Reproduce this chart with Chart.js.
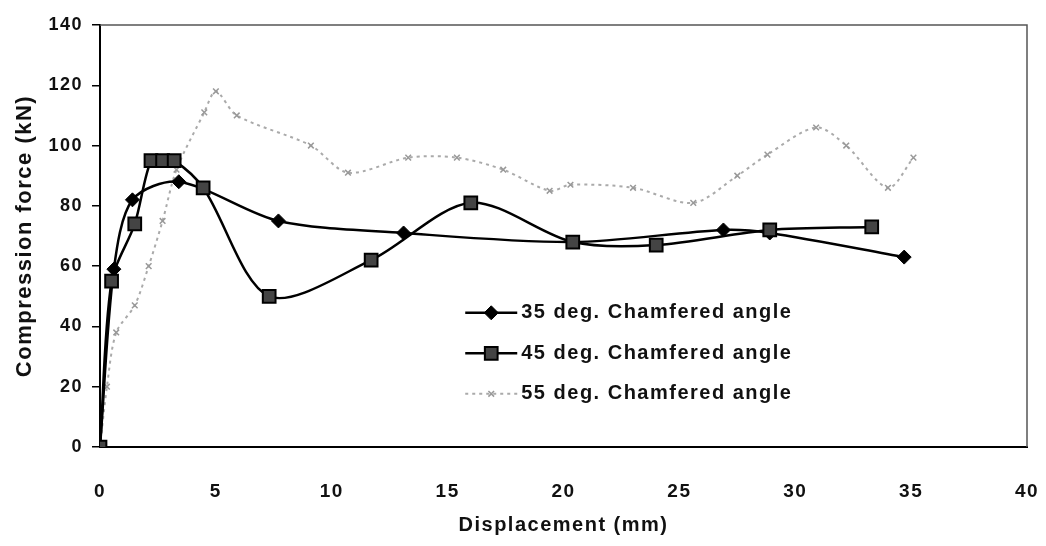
<!DOCTYPE html>
<html>
<head>
<meta charset="utf-8">
<script src="https://cdn.jsdelivr.net/npm/chart.js@4/dist/chart.umd.min.js"></script>
<style>
  html, body { margin: 0; padding: 0; background: #fff; }
  #wrap { width: 1046px; height: 546px; }
</style>
</head>
<body>
<div id="wrap"><canvas id="forceChart" width="1046" height="546"></canvas></div>
<script>
// displacement (mm) / compression force (kN)
const disp35 = [0, 0.6, 1.4, 3.4, 7.7, 13.1, 20.4, 26.9, 28.9, 34.7];
const force35 = [0, 59, 82, 88, 75, 71, 68, 72, 71, 63];

const disp45 = [0, 0.5, 1.5, 2.2, 2.7, 3.2, 4.45, 7.3, 11.7, 16.0, 20.4, 24.0, 28.9, 33.3];
const force45 = [0, 55, 74, 95, 95, 95, 86, 50, 62, 81, 68, 67, 72, 73];

const disp55 = [0, 0.3, 0.7, 1.5, 2.1, 2.7, 3.3, 4.5, 5.0, 5.9, 9.1, 10.7, 13.3, 15.4, 17.4, 19.4, 20.3, 23.0, 25.6, 27.5, 28.8, 30.9, 32.2, 34.0, 35.1];
const force55 = [0, 20, 38, 47, 60, 75, 92, 111, 118, 110, 100, 91, 96, 96, 92, 85, 87, 86, 81, 90, 97, 106, 100, 86, 96];

const seriesNames = ['35 deg. Chamfered angle', '45 deg. Chamfered angle', '55 deg. Chamfered angle'];
const xTicks = [0, 5, 10, 15, 20, 25, 30, 35, 40];
const yTicks = [0, 20, 40, 60, 80, 100, 120, 140];

const FONT = '"Liberation Sans", Arial, sans-serif';

function toPoints(xs, ys) {
  return xs.map((x, i) => ({ x: x, y: ys[i] }));
}

// legend drawn inside the plot area, like the original
const insideLegend = {
  id: 'insideLegend',
  afterDraw(chart) {
    const { ctx, chartArea: a } = chart;
    const x0 = a.left + (a.right - a.left) * 0.394;
    const y0 = a.top + (a.bottom - a.top) * 0.682;
    ctx.save();
    ctx.font = 'bold 20px ' + FONT;
    ctx.letterSpacing = '1.5px';
    ctx.textBaseline = 'middle';
    ctx.fillStyle = '#111';
    chart.data.datasets.forEach((ds, i) => {
      const y = y0 + i * 40.5;
      ctx.strokeStyle = ds.borderColor;
      ctx.lineWidth = ds.borderWidth;
      ctx.setLineDash(ds.borderDash || []);
      ctx.beginPath();
      ctx.moveTo(x0, y);
      ctx.lineTo(x0 + 52, y);
      ctx.stroke();
      ctx.setLineDash([]);
      ctx.fillStyle = ds.pointBackgroundColor;
      ctx.strokeStyle = ds.pointBorderColor;
      ctx.lineWidth = ds.pointBorderWidth;
      Chart.helpers.drawPoint(ctx, {
        pointStyle: ds.pointStyle, radius: ds.pointRadius, rotation: 0, borderWidth: ds.pointBorderWidth
      }, x0 + 26, y);
      ctx.fillStyle = '#111';
      ctx.fillText(seriesNames[i], x0 + 56, y);
    });
    ctx.restore();
  }
};

// top and right edges of the plot frame
const plotFrame = {
  id: 'plotFrame',
  beforeDatasetsDraw(chart) {
    const { ctx, chartArea: a } = chart;
    ctx.save();
    ctx.strokeStyle = '#555';
    ctx.lineWidth = 1.5;
    ctx.beginPath();
    ctx.moveTo(a.left, a.top);
    ctx.lineTo(a.right, a.top);
    ctx.lineTo(a.right, a.bottom);
    ctx.stroke();
    ctx.restore();
  },
  beforeDraw(chart) {
    chart.ctx.letterSpacing = '1.5px';
  }
};

const ctx = document.getElementById('forceChart').getContext('2d');
const chart = new Chart(ctx, {
  type: 'line',
  data: {
    datasets: [
      {
        label: seriesNames[0],
        data: toPoints(disp35, force35),
        borderColor: '#000',
        borderWidth: 2.5,
        tension: 0.3,
        pointStyle: 'rectRot',
        pointRadius: 7,
        pointBackgroundColor: '#000',
        pointBorderColor: '#000',
        pointBorderWidth: 1,
        order: 2
      },
      {
        label: seriesNames[1],
        data: toPoints(disp45, force45),
        borderColor: '#000',
        borderWidth: 2.5,
        tension: 0.3,
        pointStyle: 'rect',
        pointRadius: 9,
        pointBackgroundColor: '#444',
        pointBorderColor: '#000',
        pointBorderWidth: 2,
        order: 1
      },
      {
        label: seriesNames[2],
        data: toPoints(disp55, force55),
        borderColor: '#aaa',
        borderWidth: 2,
        borderDash: [3, 4],
        tension: 0.3,
        pointStyle: 'crossRot',
        pointRadius: 4,
        pointBackgroundColor: '#999',
        pointBorderColor: '#999',
        pointBorderWidth: 1.5,
        order: 3
      }
    ]
  },
  options: {
    responsive: false,
    animation: false,
    layout: { padding: { top: 25, right: 19, left: 0, bottom: 0 } },
    plugins: {
      legend: { display: false },
      tooltip: { enabled: false }
    },
    scales: {
      x: {
        type: 'linear',
        min: 0,
        max: 40,
        afterFit: s => { s.height = 99; s.paddingLeft = 0; s.paddingRight = 0; },
        afterBuildTicks: s => { s.ticks = xTicks.map(v => ({ value: v })); },
        border: { display: true, color: '#000', width: 2 },
        grid: { display: false, drawTicks: false },
        ticks: { color: '#111', padding: 33, font: { family: FONT, size: 19, weight: 'bold' } },
        title: {
          display: true,
          text: 'Displacement (mm)',
          color: '#111',
          padding: { top: 0, bottom: 9 },
          font: { family: FONT, size: 20, weight: 'bold' }
        }
      },
      y: {
        min: 0,
        max: 140,
        afterFit: s => { s.width = 100; s.paddingTop = 0; s.paddingBottom = 0; },
        afterBuildTicks: s => { s.ticks = yTicks.map(v => ({ value: v })); },
        border: { display: true, color: '#000', width: 2 },
        grid: { display: true, drawOnChartArea: false, drawTicks: true, tickLength: 8, color: '#000', lineWidth: 1.5 },
        ticks: { color: '#111', padding: 9, font: { family: FONT, size: 18, weight: 'bold' } },
        title: {
          display: true,
          text: 'Compression force (kN)',
          color: '#111',
          padding: { top: 12, bottom: 0 },
          font: { family: FONT, size: 22, weight: 'bold' }
        }
      }
    }
  },
  plugins: [plotFrame, insideLegend]
});
</script>
</body>
</html>
